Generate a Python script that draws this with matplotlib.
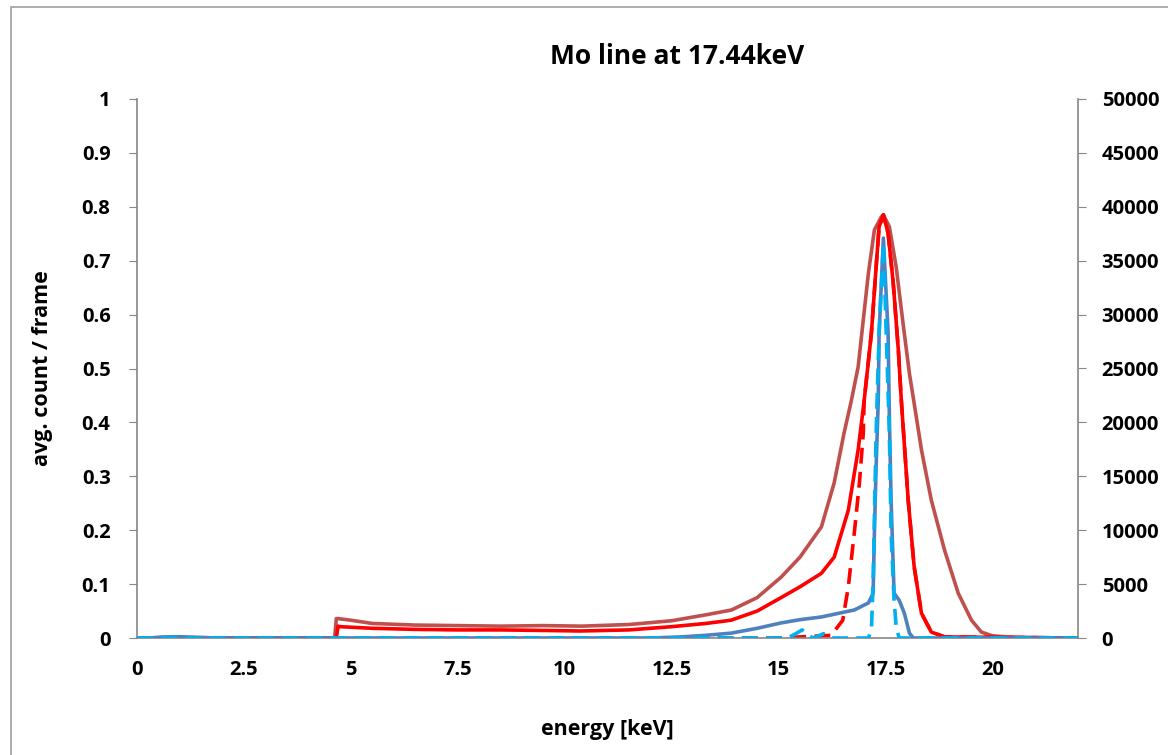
import matplotlib
matplotlib.use('agg')
import matplotlib.pyplot as plt
from matplotlib.patches import Rectangle

plt.rcParams['font.family'] = ['Open Sans', 'DejaVu Sans']
plt.rcParams['font.weight'] = 'bold'

# energy [keV] / avg. count per frame (left axis)
e_brown = [0, 4.62, 4.66, 4.70, 5.0, 5.5, 6.5, 7.5, 8.5, 9.5, 10.4, 11.5, 12.5, 13.3, 13.9,
           14.5, 15.06, 15.5, 15.83, 16.0, 16.3, 16.53, 16.7, 16.86, 17.1, 17.24, 17.4, 17.45,
           17.59, 17.75, 17.92, 18.06, 18.22, 18.34, 18.57, 18.88, 19.2, 19.51, 19.74,
           20.0, 20.5, 22]
y_brown = [0, 0, 0.036, 0.036, 0.033, 0.027, 0.024, 0.023, 0.022, 0.023, 0.022, 0.025, 0.032,
           0.043, 0.052, 0.075, 0.113, 0.150, 0.187, 0.206, 0.288, 0.38, 0.44, 0.503, 0.677,
           0.757, 0.781, 0.785, 0.763, 0.688, 0.577, 0.49, 0.41, 0.349, 0.256, 0.163, 0.083,
           0.033, 0.011, 0.004, 0.001, 0]

e_red = [0, 4.66, 4.70, 4.75, 5.0, 5.5, 6.5, 7.5, 8.5, 9.5, 10.37, 11.5, 12.5, 13.3, 13.89,
         14.5, 15.06, 15.5, 16.0, 16.3, 16.63, 16.86, 17.0, 17.17, 17.28, 17.35, 17.45,
         17.56, 17.68, 17.8, 17.87, 18.03, 18.17, 18.34, 18.57, 18.88, 22]
y_red = [0, 0, 0.022, 0.021, 0.020, 0.018, 0.016, 0.015, 0.015, 0.014, 0.013, 0.015, 0.021,
         0.027, 0.033, 0.050, 0.075, 0.095, 0.12, 0.15, 0.237, 0.349, 0.44, 0.566, 0.688,
         0.763, 0.785, 0.751, 0.659, 0.534, 0.44, 0.256, 0.132, 0.046, 0.011, 0.002, 0]

e_red_dash = [0, 15.0, 15.5, 16.0, 16.23, 16.5, 16.63, 16.77, 16.89, 16.98, 17.0, 17.17,
              17.28, 17.35, 17.45, 17.56, 17.68, 17.8, 17.87, 18.03, 18.17, 18.34, 18.57,
              18.88, 22]
y_red_dash = [0, 0, 0.002, 0.004, 0.005, 0.033, 0.095, 0.195, 0.288, 0.38, 0.44, 0.566,
              0.688, 0.763, 0.785, 0.751, 0.659, 0.534, 0.44, 0.256, 0.132, 0.046, 0.011,
              0.002, 0]

# counts (right axis)
e_blue = [0, 0.3, 0.6, 1.0, 1.5, 1.8, 12.0, 12.72, 13.3, 13.89, 14.5, 15.06, 15.5, 16.0,
          16.77, 17.1, 17.21, 17.24, 17.28, 17.33, 17.35, 17.45, 17.56, 17.59, 17.63, 17.7,
          17.82, 17.94, 18.06, 18.15, 22]
y_blue = [0, 0, 100, 120, 60, 0, 0, 100, 250, 450, 900, 1400, 1700, 1950, 2600, 3250,
          4150, 9750, 15850, 22000, 28300, 37100, 28300, 20500, 12800, 4150, 3500, 2300,
          450, 0, 0]

e_lblue = [0, 15.2, 15.36, 15.55, 15.69, 15.8, 15.9, 16.05, 16.2, 16.3, 17.1, 17.17, 17.21,
           17.24, 17.28, 17.35, 17.45, 17.59, 17.63, 17.7, 17.75, 17.82, 22]
y_lblue = [0, 0, 300, 750, 300, 0, 150, 400, 100, 0, 0, 750, 5100, 11200, 19000, 28300,
           36650, 19000, 9750, 3500, 1000, 0, 0]

xticks = [0, 2.5, 5, 7.5, 10, 12.5, 15, 17.5, 20]
yticks_left = [0, 0.1, 0.2, 0.3, 0.4, 0.5, 0.6, 0.7, 0.8, 0.9, 1]
yticks_right = [0, 5000, 10000, 15000, 20000, 25000, 30000, 35000, 40000, 45000, 50000]


def main():
    fig = plt.figure(figsize=(11.68, 7.55), dpi=100)
    ax = fig.add_axes([137 / 1168, 1 - 638 / 755, (1078 - 137) / 1168, (638 - 99) / 755])
    ax2 = ax.twinx()

    lw = 2.6
    dash = (4.4, 2.3)
    ax.plot(e_brown, y_brown, color='#C0504D', lw=lw)
    ax.plot(e_red, y_red, color='#FF0000', lw=lw)
    ax.plot(e_red_dash, y_red_dash, color='#FF0000', lw=lw, dashes=dash)
    ax2.plot(e_blue, y_blue, color='#4F81BD', lw=lw)
    ax2.plot(e_lblue, y_lblue, color='#00B0F0', lw=lw, dashes=dash)

    ax.set_xlim(0, 22)
    ax.set_ylim(0, 1)
    ax2.set_ylim(0, 50000)
    ax.set_xticks(xticks)
    ax.set_xticklabels(['{:g}'.format(t) for t in xticks])
    ax.set_yticks(yticks_left)
    ax.set_yticklabels(['{:g}'.format(t) for t in yticks_left])
    ax2.set_yticks(yticks_right)
    ax2.set_yticklabels([str(t) for t in yticks_right])

    gray = '#868686'
    for a in (ax, ax2):
        a.spines['top'].set_visible(False)
        for s in ('left', 'right', 'bottom'):
            a.spines[s].set_color(gray)
            a.spines[s].set_linewidth(1.2)
    ax.spines['right'].set_visible(False)
    ax2.spines['left'].set_visible(False)
    ax2.spines['bottom'].set_visible(False)

    ts = 14.5
    ax.tick_params(axis='y', length=6, color=gray, labelsize=ts, pad=13)
    ax.tick_params(axis='x', length=0, labelsize=ts, pad=16)
    ax2.tick_params(axis='y', length=6, color=gray, labelsize=ts, pad=11)
    for lab in ax.get_xticklabels() + ax.get_yticklabels() + ax2.get_yticklabels():
        lab.set_fontweight('bold')

    ax.set_xlabel('energy [keV]', fontsize=15.5, fontweight='bold', labelpad=28)
    ax.set_ylabel('avg. count / frame', fontsize=15.5, fontweight='bold', labelpad=21)
    fig.text(677 / 1168, 1 - 57 / 755, 'Mo line at 17.44keV', fontsize=19,
             fontweight='bold', ha='center', va='center')

    fig.patches.append(Rectangle((11 / 1168, -0.05), 1.2, 1 - 7 / 755 + 0.05,
                                 transform=fig.transFigure, fill=False,
                                 edgecolor='#a0a0a0', lw=1.2))

    fig.savefig('out.png', dpi=100)


if __name__ == '__main__':
    main()
